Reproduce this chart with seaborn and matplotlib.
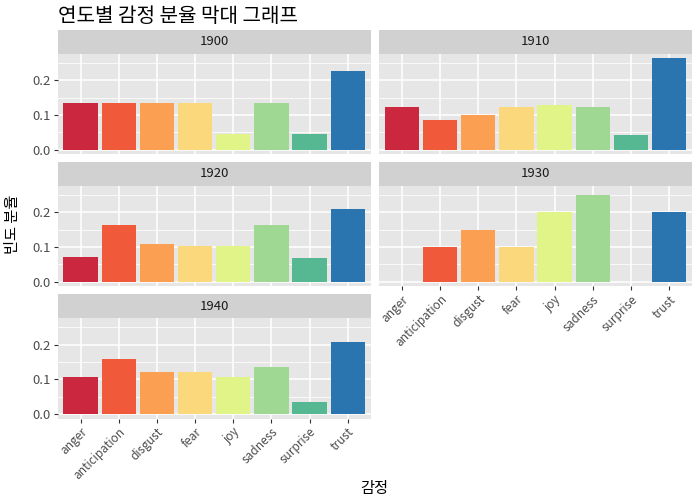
import pandas as pd
import matplotlib.pyplot as plt
from matplotlib.ticker import MultipleLocator
import seaborn as sns

sns.set_theme(style="darkgrid")
plt.rcParams['font.family'] = ['Noto Sans CJK KR', 'DejaVu Sans']

emotions = ['anger', 'anticipation', 'disgust', 'fear', 'joy', 'sadness', 'surprise', 'trust']
years = [1900, 1910, 1920, 1930, 1940]
frac_1900 = [0.134, 0.134, 0.134, 0.134, 0.044, 0.134, 0.044, 0.228]
frac_1910 = [0.124, 0.087, 0.101, 0.122, 0.128, 0.124, 0.043, 0.264]
frac_1920 = [0.072, 0.163, 0.110, 0.102, 0.102, 0.163, 0.069, 0.210]
frac_1930 = [0.0, 0.100, 0.150, 0.100, 0.200, 0.250, 0.0, 0.200]
frac_1940 = [0.108, 0.158, 0.120, 0.120, 0.107, 0.135, 0.035, 0.208]
colors = ['#CB2840', '#F0593A', '#FB9F53', '#FCD87C', '#E1F488', '#9ED892', '#56B893', '#2A74AF']

values = [frac_1900, frac_1910, frac_1920, frac_1930, frac_1940]
rows = []
for year, vals in zip(years, values):
    for emo, v in zip(emotions, vals):
        rows.append({'year': year, 'emotion': emo, 'frac': v})
df = pd.DataFrame(rows)
palette = dict(zip(emotions, colors))

W, H = 700, 500
fig = plt.figure(figsize=(7, 5), dpi=100)


def add_ax(x0, y0, w, h):
    return fig.add_axes([x0 / W, 1 - (y0 + h) / H, w / W, h / H])


col_x = [57.7, 379.0]
row_y = [30.0, 162.0, 294.3]
panel_w = 313.0
strip_h = 23.5
panel_h = 100.8
grid_pos = {1900: (0, 0), 1910: (0, 1), 1920: (1, 0), 1930: (1, 1), 1940: (2, 0)}
bottom_panels = [1930, 1940]
ymax = max(max(v) for v in values)

for year in years:
    r, c = grid_pos[year]
    x0, y0 = col_x[c], row_y[r]

    strip = add_ax(x0, y0, panel_w, strip_h)
    strip.set_facecolor('#D1D1D1')
    strip.set_xticks([])
    strip.set_yticks([])
    for s in strip.spines.values():
        s.set_visible(False)
    strip.text(0.5, 0.5, str(year), ha='center', va='center', fontsize=9.5,
               color='#1A1A1A', transform=strip.transAxes)

    ax = add_ax(x0, y0 + strip_h, panel_w, panel_h)
    sub = df[df['year'] == year]
    sns.barplot(data=sub, x='emotion', y='frac', hue='emotion', order=emotions,
                hue_order=emotions, palette=palette, legend=False, saturation=1,
                width=0.9, linewidth=0, ax=ax)
    ax.set_facecolor('#E6E6E6')
    for s in ax.spines.values():
        s.set_visible(False)
    ax.set_xlim(-0.6, len(emotions) - 0.4)
    ax.set_ylim(-ymax * 0.05, ymax * 1.05)
    ax.yaxis.set_major_locator(MultipleLocator(0.1))
    ax.yaxis.set_minor_locator(MultipleLocator(0.05))
    ax.set_axisbelow(True)
    ax.grid(which='major', color='white', linewidth=1.1)
    ax.grid(which='minor', axis='y', color='white', linewidth=0.55)
    ax.grid(which='minor', axis='x', visible=False)
    ax.set_xlabel('')
    ax.set_ylabel('')

    if c == 0:
        ax.tick_params(axis='y', which='major', length=2.75, width=0.8, color='#333333',
                       labelcolor='#4D4D4D', labelsize=9.5, pad=2, left=True)
        ax.set_yticks([0.0, 0.1, 0.2])
        ax.set_yticklabels(['0.0', '0.1', '0.2'])
    else:
        ax.tick_params(axis='y', which='both', length=0, labelleft=False)
    ax.tick_params(axis='y', which='minor', length=0)

    if year in bottom_panels:
        ax.tick_params(axis='x', length=2.75, width=0.8, color='#333333',
                       labelcolor='#4D4D4D', labelsize=8.5, pad=2, bottom=True)
        ax.set_xticks(range(len(emotions)))
        ax.set_xticklabels(emotions, rotation=45, ha='right', rotation_mode='anchor')
    else:
        ax.tick_params(axis='x', length=0, labelbottom=False)

fig.text(58 / W, 1 - 16 / H, '연도별 감정 분율 막대 그래프', ha='left', va='center',
         fontsize=14.5, color='black')
fig.text(12 / W, 1 - 224 / H, '빈도 분율', rotation=90, ha='center', va='center',
         fontsize=11, color='black')
fig.text(374.7 / W, 1 - 488 / H, '감정', ha='center', va='center',
         fontsize=11, color='black')

fig.savefig('out.png', dpi=100)
